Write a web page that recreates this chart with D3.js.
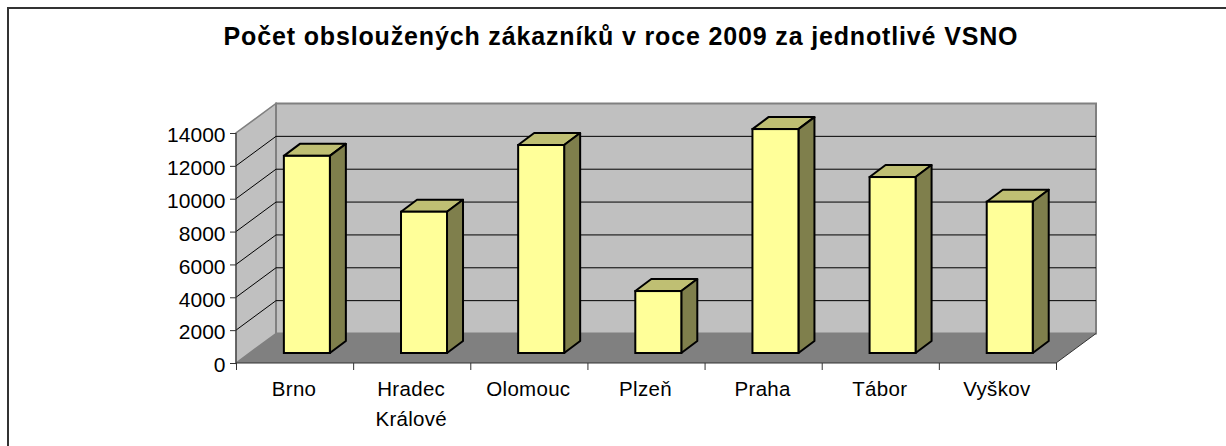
<!DOCTYPE html>
<html><head><meta charset="utf-8">
<script src="https://cdn.jsdelivr.net/npm/d3@7"></script>
<style>html,body{margin:0;padding:0;background:#fff;overflow:hidden}svg{display:block}text{font-family:"Liberation Sans",Arial,sans-serif;fill:#000}</style>
</head><body><svg id="c" width="1226" height="446"></svg>
<script>
const categories = [["Brno"],["Hradec","Králové"],["Olomouc"],["Plzeň"],["Praha"],["Tábor"],["Vyškov"]];
const values = [12000,8600,12660,3770,13630,10710,9210];
const yTicks = [0,2000,4000,6000,8000,10000,12000,14000];
const titleText = "Počet obsloužených zákazníků v roce 2009 za jednotlivé VSNO";

const svg = d3.select("#c");
const names = categories.map(c=>c.join(" "));
const x = d3.scaleBand().domain(names).range([236,1056]).paddingInner(0).paddingOuter(0);
const y = d3.scaleLinear().domain([0,14000]).range([363,133]);
const depth = {dx:40, dy:-29.5};
const barDepth = {dx:16, dy:-12};
const barShift = {dx:12.3, dy:-10};
const barW = 46;
const pts = a => a.map(p=>p.join(",")).join(" ");
const [x0,x1] = x.range();

svg.append("path").attr("d","M8,446V8H1226").attr("fill","none").attr("stroke","#333").attr("stroke-width",2);

svg.append("text").attr("x",621).attr("y",45).attr("text-anchor","middle").attr("font-weight","bold").attr("font-size",25).attr("letter-spacing",0.85).text(titleText);

// walls
svg.append("polygon").attr("points",pts([[x0,y(0)],[x0+depth.dx,y(0)+depth.dy],[x0+depth.dx,y(14000)+depth.dy],[x0,y(14000)]])).attr("fill","#c0c0c0").attr("stroke","#808080").attr("stroke-width",1.5);
svg.append("polygon").attr("points",pts([[x0+depth.dx,y(0)+depth.dy],[x1+depth.dx,y(0)+depth.dy],[x1+depth.dx,y(14000)+depth.dy],[x0+depth.dx,y(14000)+depth.dy]])).attr("fill","#c0c0c0").attr("stroke","#808080").attr("stroke-width",2);
svg.append("polygon").attr("points",pts([[x0,y(0)],[x1,y(0)],[x1+depth.dx,y(0)+depth.dy],[x0+depth.dx,y(0)+depth.dy]])).attr("fill","#808080");

// gridlines
yTicks.slice(1,-1).forEach(v=>{
  svg.append("polyline").attr("fill","none").attr("stroke","#000").attr("stroke-width",1)
    .attr("points",pts([[x0,y(v)],[x0+depth.dx,y(v)+depth.dy],[x1+depth.dx,y(v)+depth.dy]]));
});

// bars
const g = svg.append("g").selectAll("g").data(names.map((n,i)=>({n,v:values[i]}))).join("g");
const fx = d => x(d.n)+(x.bandwidth()-barW)/2+barShift.dx;
const by = y(0)+barShift.dy;
const ty = d => y(d.v)+barShift.dy;
g.append("polygon").attr("fill","#bfbf73").attr("stroke","#000").attr("stroke-width",2).attr("stroke-linejoin","round")
 .attr("points",d=>pts([[fx(d),ty(d)],[fx(d)+barW,ty(d)],[fx(d)+barW+barDepth.dx,ty(d)+barDepth.dy],[fx(d)+barDepth.dx,ty(d)+barDepth.dy]]));
g.append("polygon").attr("fill","#7f7f4c").attr("stroke","#000").attr("stroke-width",2).attr("stroke-linejoin","round")
 .attr("points",d=>pts([[fx(d)+barW,ty(d)],[fx(d)+barW+barDepth.dx,ty(d)+barDepth.dy],[fx(d)+barW+barDepth.dx,by+barDepth.dy],[fx(d)+barW,by]]));
g.append("rect").attr("fill","#ffff99").attr("stroke","#000").attr("stroke-width",2)
 .attr("x",fx).attr("y",ty).attr("width",barW).attr("height",d=>by-ty(d));

// y axis
const ya = svg.append("g").attr("transform",`translate(${x0},0)`).call(d3.axisLeft(y).tickValues(yTicks).tickFormat(d3.format("d")).tickSize(6).tickPadding(4));
ya.selectAll("path").attr("d",`M0,${y(14000)}V${y(0)}`).attr("stroke","#333");
ya.selectAll("line").attr("stroke","#333");
ya.selectAll("text").attr("font-size",21).attr("dy","0.42em").attr("x",-10.5).style("font-family",'"Liberation Sans"').attr("fill","#000");

// x axis
const edges = d3.scalePoint().domain(d3.range(names.length+1)).range([x0,x1]);
const xa = svg.append("g").attr("transform",`translate(0,${y(0)})`).call(d3.axisBottom(edges).tickSize(7).tickFormat(""));
xa.selectAll("path").attr("d",`M${x0},0H${x1}`).attr("stroke","#333");
xa.selectAll("line").attr("stroke","#333");
svg.append("line").attr("x1",x1).attr("y1",y(0)).attr("x2",x1+depth.dx).attr("y2",y(0)+depth.dy).attr("stroke","#333");

const labels = svg.append("g").selectAll("text").data(categories).join("text")
  .attr("text-anchor","middle").attr("font-size",20.5).attr("letter-spacing",0.3);
labels.each(function(c,i){
  d3.select(this).selectAll("tspan").data(c).join("tspan")
    .attr("x",x(names[i])+x.bandwidth()/2-0.5).attr("y",(d,j)=>396+j*30).text(d=>d);
});
</script></body></html>
